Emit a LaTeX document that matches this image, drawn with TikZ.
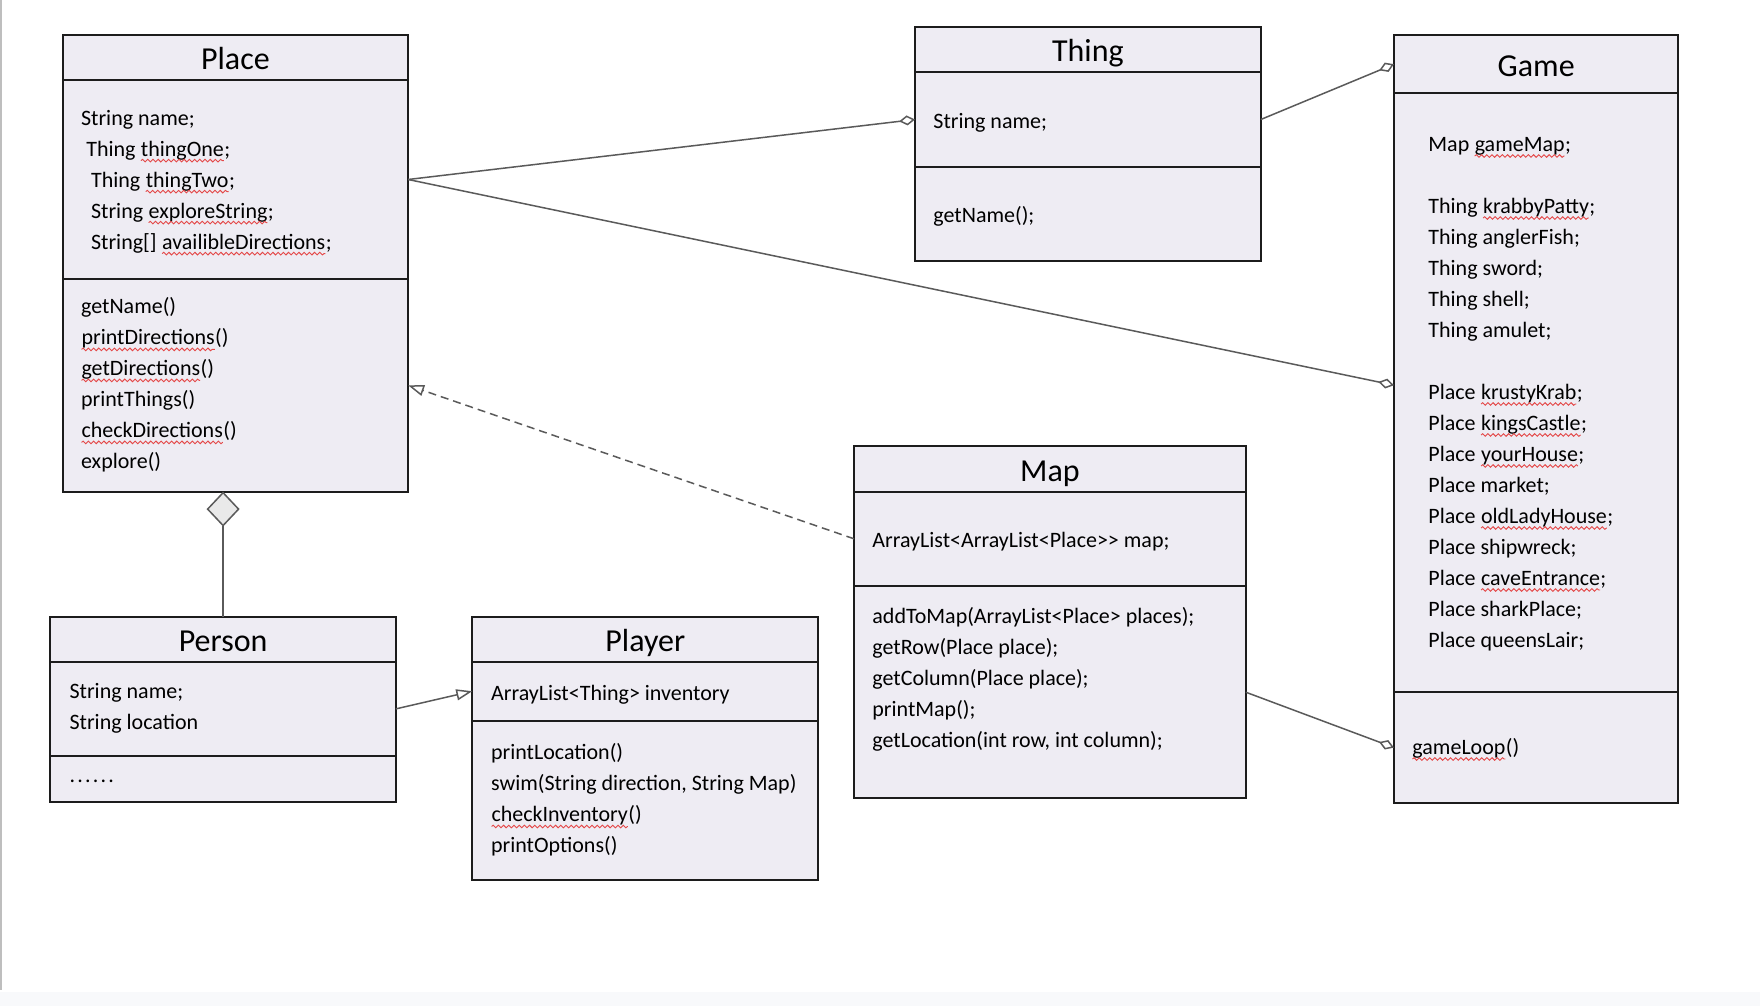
\documentclass[tikz,border=0pt]{standalone}
\usepackage{fontspec}
\setmainfont{Carlito}
\usetikzlibrary{arrows.meta,positioning,calc,decorations.pathmorphing}

\definecolor{boxfill}{RGB}{238,236,243}
\definecolor{boxline}{RGB}{28,28,28}
\definecolor{linkgray}{RGB}{90,90,90}
\definecolor{squigred}{RGB}{228,72,72}
\definecolor{diafill}{RGB}{233,233,233}
\definecolor{edgegray}{RGB}{190,190,190}
\definecolor{bandgray}{RGB}{248,249,251}

\newcommand{\bodyfont}{\fontsize{11}{15.5}\selectfont}
\newcommand{\titlefont}{\fontsize{16}{20}\selectfont}
% red spell-check wave under a word
\newcommand{\squig}[1]{\tikz[baseline=(w.base)]{\node[inner sep=0pt,outer sep=0pt] (w) {#1};
  \draw[squigred, line width=0.45pt, decorate, decoration={snake,amplitude=0.65pt,segment length=2.6pt}]
    ([yshift=-2.3pt]w.base west) -- ([yshift=-2.3pt]w.base east);}}

\tikzset{
  clsname/.style={draw=boxline, fill=boxfill, line width=1pt, outer sep=0pt, inner sep=0pt,
    font=\titlefont, text height=13pt, text depth=0.5pt, anchor=north west},
  compart/.style={draw=boxline, fill=boxfill, line width=1pt, outer sep=0pt, inner sep=0pt},
  members/.style={inner sep=0pt, align=left, font=\bodyfont, anchor=west, yshift=-1.3pt,
    execute at begin node=\strut, execute at end node=\strut},
  assoc/.style={draw=linkgray, line width=0.75pt},
  aggr/.style={assoc, -{Diamond[open, length=8pt, width=5pt]}},
  realize/.style={assoc, -{Triangle[open, length=8pt, width=5.5pt]}},
}

\begin{document}
\begin{tikzpicture}[x=0.5pt,y=-0.5pt]
	\useasboundingbox (0,0) rectangle (1760,1006);
	\fill[white] (0,0) rectangle (1760,1006);
	\fill[bandgray] (0,992) rectangle (1760,1006);
	\draw[edgegray, line width=1pt] (1,0) -- (1,990);

	% Place
	\node[clsname, minimum width=172.7pt, minimum height=22.5pt] (placeName) at (62.7,35) {Place};
	\node[compart, minimum width=172.7pt, minimum height=99.5pt, below=0pt of placeName] (placeAttr) {};
	\node[compart, minimum width=172.7pt, minimum height=106.3pt, below=0pt of placeAttr] (placeOps) {};
	\node[members] (placeAttrTxt) at ([xshift=9pt,yshift=-1pt]placeAttr.west) {String name;\\
		\hspace{2.6pt}Thing \squig{thingOne};\\
		\hspace{5pt}Thing \squig{thingTwo};\\
		\hspace{5pt}String \squig{exploreString};\\
		\hspace{5pt}String[] \squig{availibleDirections};};
	\node[members] (placeOpsTxt) at ([xshift=9pt]placeOps.west) {getName()\\
		\squig{printDirections}()\\
		\squig{getDirections}()\\
		printThings()\\
		\squig{checkDirections}()\\
		explore()};

	% Thing
	\node[clsname, minimum width=172.9pt, minimum height=22.8pt] (thingName) at (915,26.7) {Thing};
	\node[compart, minimum width=172.9pt, minimum height=47.2pt, below=0pt of thingName] (thingAttr) {};
	\node[compart, minimum width=172.9pt, minimum height=47pt, below=0pt of thingAttr] (thingOps) {};
	\node[members] (thingAttrTxt) at ([xshift=9pt]thingAttr.west) {String name;};
	\node[members] (thingOpsTxt) at ([xshift=9pt]thingOps.west) {getName();};

	% Game
	\node[clsname, minimum width=142.2pt, minimum height=29.2pt] (gameName) at (1394,35) {Game};
	\node[compart, minimum width=142.2pt, minimum height=299.2pt, below=0pt of gameName] (gameAttr) {};
	\node[compart, minimum width=142.2pt, minimum height=55.8pt, below=0pt of gameAttr] (gameOps) {};
	\node[members] (gameAttrTxt) at ([xshift=17pt,yshift=1pt]gameAttr.west) {Map \squig{gameMap};\\[15.5pt]
		Thing \squig{krabbyPatty};\\
		Thing anglerFish;\\
		Thing sword;\\
		Thing shell;\\
		Thing amulet;\\[15.5pt]
		Place \squig{krustyKrab};\\
		Place \squig{kingsCastle};\\
		Place \squig{yourHouse};\\
		Place market;\\
		Place \squig{oldLadyHouse};\\
		Place shipwreck;\\
		Place \squig{caveEntrance};\\
		Place sharkPlace;\\
		Place queensLair;};
	\node[members] (gameOpsTxt) at ([xshift=8.8pt,yshift=1pt]gameOps.west) {\squig{gameLoop}()};

	% Map
	\node[clsname, minimum width=195.9pt, minimum height=22.8pt] (mapName) at (854,446) {Map};
	\node[compart, minimum width=195.9pt, minimum height=47.2pt, below=0pt of mapName] (mapAttr) {};
	\node[compart, minimum width=195.9pt, minimum height=106.2pt, below=0pt of mapAttr] (mapOps) {};
	\node[members] (mapAttrTxt) at ([xshift=9pt]mapAttr.west) {ArrayList<ArrayList<Place>\kern0pt> map;};
	\node[members] (mapOpsTxt) at ([xshift=9pt,yshift=6.2pt]mapOps.west) {addToMap(ArrayList<Place> places);\\
		getRow(Place place);\\
		getColumn(Place place);\\
		printMap();\\
		getLocation(int row, int column);};

	% Person
	\node[clsname, minimum width=172.7pt, minimum height=22.5pt] (personName) at (50.4,616.7) {Person};
	\node[compart, minimum width=172.7pt, minimum height=47.2pt, below=0pt of personName] (personAttr) {};
	\node[compart, minimum width=172.7pt, minimum height=22.8pt, below=0pt of personAttr] (personOps) {};
	\node[members] (personAttrTxt) at ([xshift=9.4pt]personAttr.west) {String name;\\ String location};
	\node[members] (personOpsTxt) at ([xshift=9.4pt,yshift=2.5pt]personOps.west) {.\kern1.1pt.\kern1.1pt.\kern1.1pt.\kern1.1pt.\kern1.1pt.};

	% Player
	\node[clsname, minimum width=173pt, minimum height=22.5pt] (playerName) at (472.3,616.7) {Player};
	\node[compart, minimum width=173pt, minimum height=29.5pt, below=0pt of playerName] (playerAttr) {};
	\node[compart, minimum width=173pt, minimum height=79.7pt, below=0pt of playerAttr] (playerOps) {};
	\node[members] (playerAttrTxt) at ([xshift=9.2pt]playerAttr.west) {ArrayList<Thing> inventory};
	\node[members] (playerOpsTxt) at ([xshift=9.2pt]playerOps.west) {printLocation()\\
		swim(String direction, String Map)\\
		\squig{checkInventory}()\\
		printOptions()};

	% connectors
	\draw[aggr] (placeAttr.east) -- (thingAttr.west);
	\draw[aggr] (placeAttr.east) -- ([yshift=3.7pt]gameAttr.west);
	\draw[aggr] (thingAttr.east) -- (gameName.west);
	\draw[aggr] (mapOps.east) -- (gameOps.west);
	\draw[realize, dashed, dash pattern=on 4pt off 2.5pt] (mapAttr.west) -- (placeOps.east);
	\draw[realize] (personAttr.east) -- (playerAttr.west);
	\draw[assoc, -{Diamond[length=17.5pt, width=16.5pt, fill=diafill]}] (personName.north) -- (personName.north |- placeOps.south);
\end{tikzpicture}
\end{document}
